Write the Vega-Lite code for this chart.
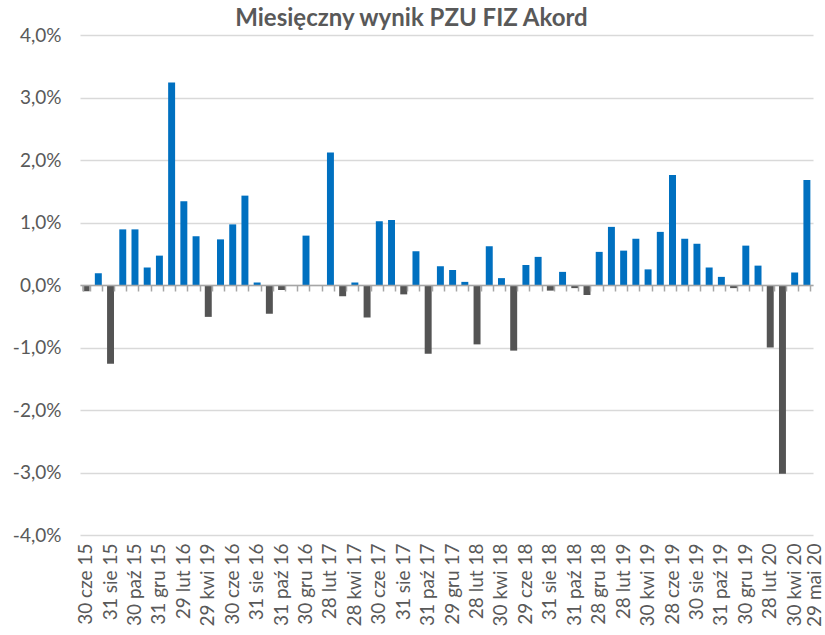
{
  "$schema": "https://vega.github.io/schema/vega-lite/v6.json",
  "width": 733,
  "height": 500,
  "autosize": {"type": "none"},
  "padding": {"left": 80, "top": 35, "right": 12, "bottom": 100},
  "background": "white",
  "config": {"view": {"stroke": null}, "font": "Lato"},
  "title": {"text": "Miesięczny wynik PZU FIZ Akord", "fontSize": 24, "fontWeight": "bold", "color": "#595959", "font": "Lato", "anchor": "middle", "dx": -35, "offset": -5},
  "data": {"values": [
    {"d": "30 cze 15", "v": -0.10},
    {"d": "31 lip 15", "v": 0.19},
    {"d": "31 sie 15", "v": -1.26},
    {"d": "30 wrz 15", "v": 0.89},
    {"d": "30 paź 15", "v": 0.89},
    {"d": "30 lis 15", "v": 0.28},
    {"d": "31 gru 15", "v": 0.47},
    {"d": "29 sty 16", "v": 3.24},
    {"d": "29 lut 16", "v": 1.34},
    {"d": "31 mar 16", "v": 0.78},
    {"d": "29 kwi 19", "v": -0.51},
    {"d": "31 maj 16", "v": 0.73},
    {"d": "30 cze 16", "v": 0.97},
    {"d": "29 lip 16", "v": 1.43},
    {"d": "31 sie 16", "v": 0.04},
    {"d": "30 wrz 16", "v": -0.46},
    {"d": "31 paź 16", "v": -0.08},
    {"d": "30 lis 16", "v": -0.01},
    {"d": "30 gru 16", "v": 0.79},
    {"d": "31 sty 17", "v": -0.01},
    {"d": "28 lut 17", "v": 2.12},
    {"d": "31 mar 17", "v": -0.18},
    {"d": "28 kwi 17", "v": 0.04},
    {"d": "31 maj 17", "v": -0.52},
    {"d": "30 cze 17", "v": 1.02},
    {"d": "31 lip 17", "v": 1.04},
    {"d": "31 sie 17", "v": -0.15},
    {"d": "29 wrz 17", "v": 0.54},
    {"d": "31 paź 17", "v": -1.10},
    {"d": "30 lis 17", "v": 0.30},
    {"d": "29 gru 17", "v": 0.24},
    {"d": "31 sty 18", "v": 0.05},
    {"d": "28 lut 18", "v": -0.95},
    {"d": "30 mar 18", "v": 0.62},
    {"d": "30 kwi 18", "v": 0.11},
    {"d": "30 maj 18", "v": -1.05},
    {"d": "29 cze 18", "v": 0.32},
    {"d": "31 lip 18", "v": 0.45},
    {"d": "31 sie 18", "v": -0.09},
    {"d": "28 wrz 18", "v": 0.21},
    {"d": "31 paź 18", "v": -0.05},
    {"d": "30 lis 18", "v": -0.16},
    {"d": "28 gru 18", "v": 0.53},
    {"d": "31 sty 19", "v": 0.93},
    {"d": "28 lut 19", "v": 0.55},
    {"d": "29 mar 19", "v": 0.74},
    {"d": "30 kwi 19", "v": 0.25},
    {"d": "31 maj 19", "v": 0.85},
    {"d": "28 cze 19", "v": 1.76},
    {"d": "31 lip 19", "v": 0.74},
    {"d": "30 sie 19", "v": 0.66},
    {"d": "30 wrz 19", "v": 0.28},
    {"d": "31 paź 19", "v": 0.13},
    {"d": "29 lis 19", "v": -0.05},
    {"d": "30 gru 19", "v": 0.63},
    {"d": "31 sty 20", "v": 0.31},
    {"d": "28 lut 20", "v": -1.00},
    {"d": "31 mar 20", "v": -3.02},
    {"d": "30 kwi 20", "v": 0.20},
    {"d": "29 mai 20", "v": 1.68}
  ]},
  "layer": [
    {
      "mark": {"type": "bar"},
      "encoding": {
        "x": {"field": "d", "type": "nominal", "sort": null,
          "scale": {"paddingInner": 0.43, "paddingOuter": 0.215},
          "axis": {"orient": "bottom", "offset": -250, "labels": false, "title": null, "domain": true, "domainColor": "#a6a6a6", "domainWidth": 1.5, "ticks": true, "tickBand": "extent", "tickColor": "#a6a6a6", "tickWidth": 1.5, "tickSize": 6, "zindex": 1}},
        "y": {"field": "v", "type": "quantitative",
          "scale": {"domain": [-4, 4], "nice": false},
          "axis": {"values": [-4, -3, -2, -1, 0, 1, 2, 3, 4], "title": null, "domain": false, "ticks": false, "grid": true, "gridColor": "#d9d9d9", "gridWidth": 1.5, "labelFontSize": 19, "labelColor": "#595959", "labelPadding": 19, "labelFont": "Lato",
            "labelExpr": "replace(replace(format(datum.value, '.1f'), '.', ','), '−', '-') + '%'"}},
        "color": {"condition": {"test": "datum.v < 0", "value": "#545454"}, "value": "#0070c0"}
      }
    },
    {
      "mark": {"type": "bar", "opacity": 0},
      "encoding": {
        "x": {"field": "d", "type": "nominal", "sort": null,
          "axis": {"orient": "bottom", "title": null, "domain": false, "ticks": false, "labelAngle": -90, "labelAlign": "right", "labelBaseline": "middle", "labelPadding": 8, "labelFontSize": 19, "labelColor": "#595959", "labelFont": "Lato", "labelOverlap": false, "labelLimit": 200,
            "labelOffset": {"condition": {"test": "datum.value == '29 mai 20'", "value": 8}, "value": 0},
            "labelExpr": "indexof(['30 cze 15','31 sie 15','30 paź 15','31 gru 15','29 lut 16','29 kwi 19','30 cze 16','31 sie 16','31 paź 16','30 gru 16','28 lut 17','28 kwi 17','30 cze 17','31 sie 17','31 paź 17','29 gru 17','28 lut 18','30 kwi 18','29 cze 18','31 sie 18','31 paź 18','28 gru 18','28 lut 19','30 kwi 19','28 cze 19','30 sie 19','31 paź 19','30 gru 19','28 lut 20','30 kwi 20','29 mai 20'], datum.value) >= 0 ? datum.value : ''"}}
      }
    }
  ],
  "resolve": {"axis": {"x": "independent"}}
}
